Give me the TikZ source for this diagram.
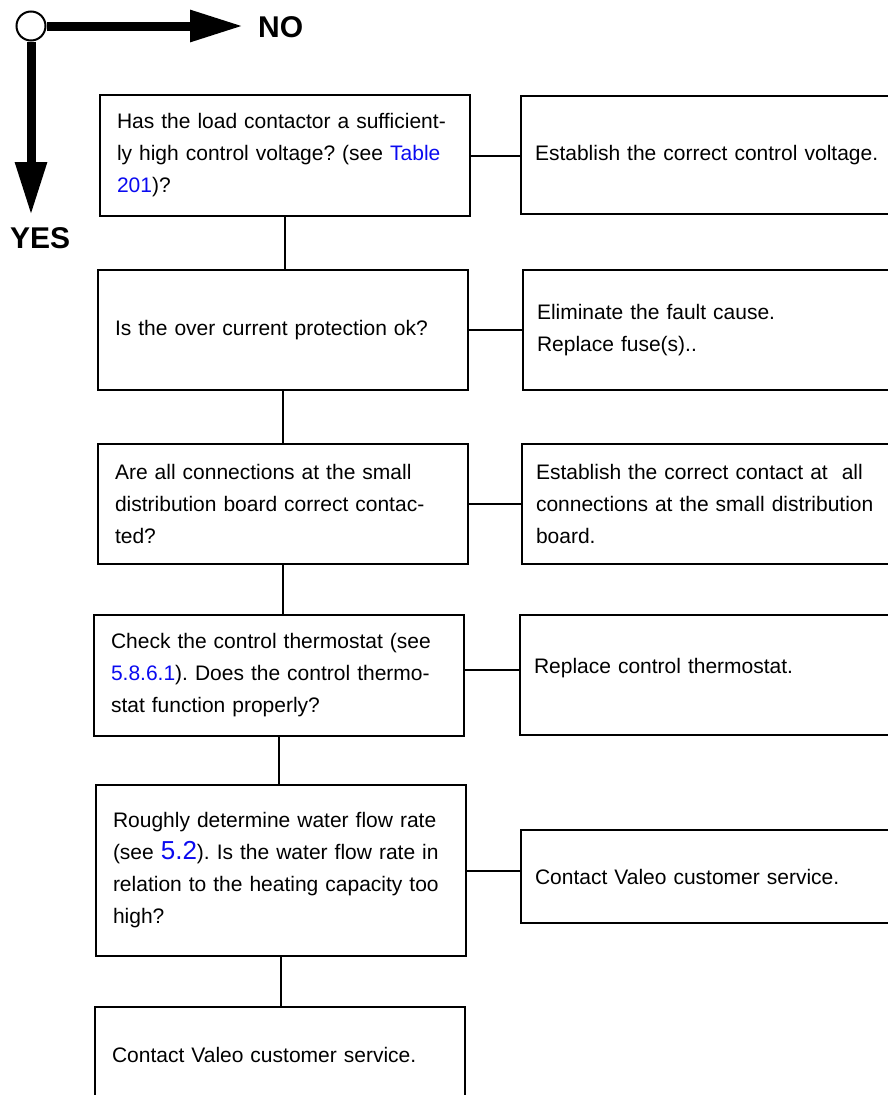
\documentclass[tikz,border=0pt]{standalone}
\usepackage{fontspec}
\setmainfont{Liberation Sans}
\usetikzlibrary{arrows.meta}
\definecolor{linkblue}{RGB}{10,10,240}
\newcommand{\xref}[1]{\textcolor{linkblue}{#1}}
\frenchspacing

\begin{document}
\begin{tikzpicture}[x=1pt,y=-1pt,
  box/.style={draw,line width=2pt,anchor=north west,align=left,inner ysep=0pt,
    font=\fontsize{21}{32}\selectfont},
  qbox/.style={box,inner xsep=17pt,text width=336pt},
  abox/.style={box,inner xsep=14pt,text width=370pt},
  conn/.style={line width=2pt},
  yn/.style={line width=9pt,-{Triangle[length=53pt,width=30pt]}},
  lbl/.style={font=\fontsize{30}{30}\selectfont\bfseries,inner sep=0pt,anchor=west}]
  \useasboundingbox (0,0) rectangle (887,1095);

  % yes / no key
  \node (start) [circle,draw,fill=white,line width=2pt,minimum size=29pt,inner sep=0pt] at (31,26) {};
  \coordinate (notip) at (243,26);
  \coordinate (yestip) at (31,215);
  \node (no) [lbl] at (258,27) {NO};
  \node (yes) [lbl] at (10,238) {YES};
  \draw[yn] (start) -- (notip);
  \draw[yn] (start) -- (yestip);

  % questions
  \node (q1) [qbox,minimum height=121pt] at (99,94)
    {Has the load contactor a sufficient-\\ly high control voltage? (see \xref{Table}\\\xref{201})?};
  \node (q2) [qbox,minimum height=120pt] at (97,269)
    {Is the over current protection ok?};
  \node (q3) [qbox,minimum height=120pt] at (97,443)
    {Are all connections at the small\\distribution board correct contac-\\ted?};
  \node (q4) [qbox,minimum height=121pt] at (93,614)
    {Check the control thermostat (see\\\xref{5.8.6.1}). Does the control thermo-\\stat function properly?};
  \node (q5) [qbox,minimum height=171pt] at (95,784)
    {Roughly determine water flow rate\\(see {\fontsize{26}{32}\selectfont\xref{5.2}}). Is the water flow rate in\\relation to the heating capacity too\\high?};
  \node (q6) [qbox,minimum height=96pt] at (94,1006)
    {Contact Valeo customer service.};

  % actions
  \node (a1) [abox,minimum height=118pt] at (520,95)
    {Establish the correct control voltage.};
  \node (a2) [abox,minimum height=120pt] at (522,269)
    {Eliminate the fault cause.\\Replace fuse(s)..};
  \node (a3) [abox,minimum height=120pt] at (521,443)
    {Establish the correct contact at \ all\\connections at the small distribution\\board.};
  \node (a4) [abox,minimum height=120pt,text height=15pt,text depth=18.4pt] at (519,614)
    {Replace control thermostat.};
  \node (a5) [abox,minimum height=93pt] at (520,829)
    {Contact Valeo customer service.};

  \path[conn]
    (q1.south) edge (q1.south |- q2.north)
    (q2.south) edge (q2.south |- q3.north)
    (q3.south) edge (q3.south |- q4.north)
    (q4.south) edge (q4.south |- q5.north)
    (q5.south) edge (q5.south |- q6.north)
    (q1.east) edge (q1.east -| a1.west)
    (q2.east) edge (q2.east -| a2.west)
    (q3.east) edge (q3.east -| a3.west)
    ([yshift=6pt]q4.east) edge ([yshift=6pt]q4.east -| a4.west)
    (q5.east) edge (q5.east -| a5.west);
\end{tikzpicture}
\end{document}
